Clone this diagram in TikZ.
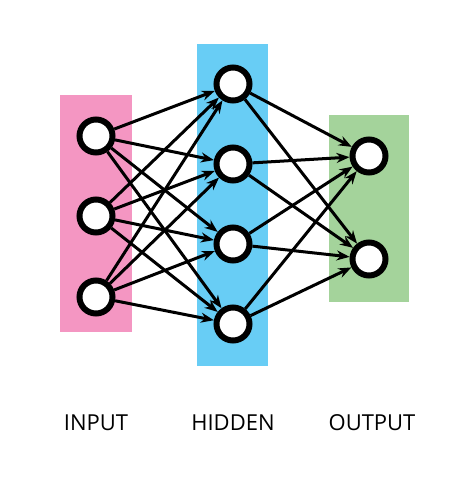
\documentclass[tikz,border=0pt]{standalone}
\usepackage{fontspec}
\setmainfont{Open Sans}
\usetikzlibrary{arrows.meta}
\definecolor{inpink}{RGB}{244,150,194}
\definecolor{hidblue}{RGB}{104,205,245}
\definecolor{outgreen}{RGB}{164,211,155}
\tikzset{
  neuron/.style={circle,draw=black,fill=white,line width=6pt,minimum size=33pt,inner sep=0pt},
  conn/.style={-{Stealth[length=13pt,width=10pt]},line width=3pt},
  layerlabel/.style={font=\fontsize{22}{26}\selectfont}
}
\begin{document}
\begin{tikzpicture}[x=1pt,y=-1pt]
\useasboundingbox (0,0) rectangle (463,495);
\fill[inpink] (60,95) rectangle (132,332);
\fill[hidblue] (197,44) rectangle (268,366);
\fill[outgreen] (329,115) rectangle (409,302);
\node[neuron] (i1) at (96,136) {};
\node[neuron] (i2) at (96,216) {};
\node[neuron] (i3) at (96,297) {};
\node[neuron] (h1) at (233,84) {};
\node[neuron] (h2) at (233,164) {};
\node[neuron] (h3) at (233,244) {};
\node[neuron] (h4) at (233,324) {};
\node[neuron] (o1) at (369,156) {};
\node[neuron] (o2) at (369,259) {};
\foreach \i in {i1,i2,i3}{\foreach \h in {h1,h2,h3,h4}{\draw[conn] (\i) -- (\h);}}
\foreach \h in {h1,h2,h3,h4}{\foreach \o in {o1,o2}{\draw[conn] (\h) -- (\o);}}
\node[layerlabel] (li) at (96,423) {INPUT};
\node[layerlabel] (lh) at (233,423) {HIDDEN};
\node[layerlabel] (lo) at (372,423) {OUTPUT};
\end{tikzpicture}
\end{document}
